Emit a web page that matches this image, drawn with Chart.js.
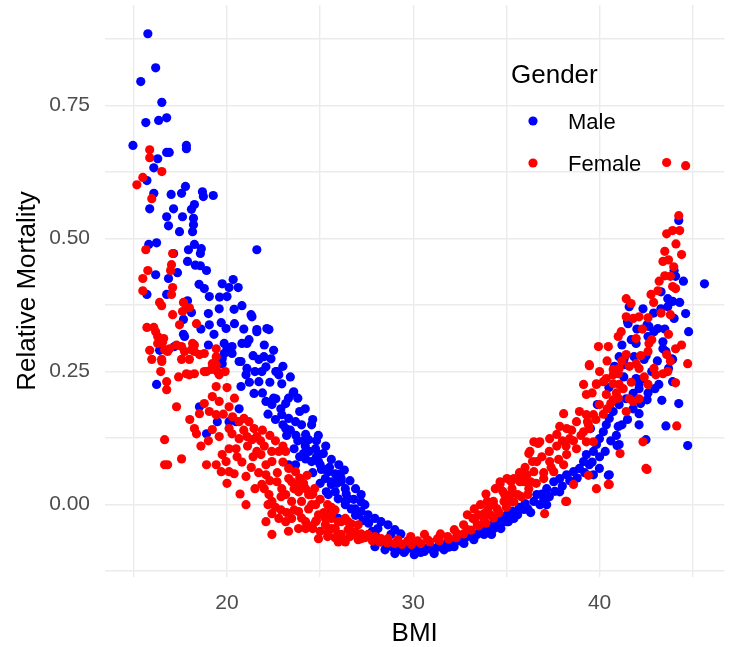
<!DOCTYPE html>
<html>
<head>
<meta charset="utf-8">
<script src="https://cdn.jsdelivr.net/npm/chart.js@4/dist/chart.umd.min.js"></script>
<style>
  html, body { margin: 0; padding: 0; background: #fff; }
  #wrap { width: 729px; height: 647px; }
</style>
</head>
<body>
<div id="wrap"><canvas id="myChart" width="729" height="647"></canvas></div>
<script>
// [BMI, relative mortality]
const malePoints = [
  [15.75,0.885],[16.17,0.821],[15.37,0.795],[16.5,0.756],[15.64,0.718],[16.33,0.722],[16.76,0.727],[14.95,0.675],
  [17.82,0.675],[17.82,0.669],[16.76,0.662],[16.9,0.662],[16.28,0.65],[16.07,0.633],[15.7,0.609],[16.07,0.585],
  [17.0,0.583],[17.56,0.585],[17.77,0.598],[18.68,0.588],[18.73,0.579],[19.26,0.581],[15.85,0.556],[17.13,0.556],
  [18.25,0.564],[18.09,0.555],[16.76,0.541],[16.86,0.524],[17.61,0.541],[18.2,0.538],[18.2,0.526],[18.15,0.513],
  [17.45,0.513],[15.8,0.489],[16.22,0.492],[17.13,0.472],[17.93,0.479],[18.25,0.489],[18.62,0.481],[18.57,0.472],
  [17.88,0.457],[18.57,0.449],[21.6,0.479],[17.34,0.436],[16.17,0.432],[16.86,0.425],[15.7,0.395],[16.76,0.395],
  [18.5,0.414],[18.78,0.406],[19.05,0.391],[19.74,0.415],[20.33,0.423],[20.11,0.408],[20.6,0.408],[20.0,0.391],
  [17.88,0.383],[18.09,0.361],[19.0,0.359],[19.58,0.368],[20.38,0.367],[20.8,0.374],[21.34,0.353],[19.05,0.338],
  [19.69,0.342],[19.95,0.331],[21.6,0.329],[22.14,0.331],[17.66,0.348],[17.66,0.32],[17.18,0.297],[16.38,0.29],
  [19.85,0.303],[20.27,0.297],[19.85,0.284],[20.27,0.284],[19.74,0.265],[20.75,0.269],[21.71,0.273],[21.98,0.278],
  [22.09,0.259],[22.36,0.274],[22.68,0.25],[21.18,0.31],[21.6,0.325],[21.07,0.303],[21.29,0.357],[20.8,0.303],
  [16.22,0.226],[17.72,0.316],[20.0,0.293],[19.74,0.274],[20.65,0.269],[21.07,0.256],[21.02,0.244],[20.75,0.222],
  [21.45,0.209],[21.71,0.231],[21.87,0.25],[22.62,0.25],[22.94,0.227],[22.78,0.244],[18.52,0.184],[18.9,0.133],
  [19.48,0.156],[20.11,0.156],[20.65,0.18],[20.49,0.156],[22.09,0.194],[22.41,0.188],[22.62,0.199],[22.89,0.18],
  [23.15,0.19],[23.58,0.212],[22.94,0.169],[23.31,0.162],[23.15,0.143],[23.68,0.156],[24.0,0.15],[24.54,0.15],
  [24.22,0.132],[24.38,0.122],[24.75,0.105],[25.17,0.096],[24.91,0.081],[24.54,0.081],[24.11,0.096],[23.68,0.075],
  [23.31,0.075],[22.25,0.329],[22.73,0.248],[22.5,0.2],[23.55,0.21],[23.2,0.13],[23.8,0.12],[24.2,0.11],
  [21.2,0.23],[21.5,0.25],[21.9,0.21],[22.2,0.17],[22.6,0.16],[23.0,0.15],[23.4,0.14],[23.7,0.13],
  [24.1,0.12],[24.4,0.1],[24.8,0.09],[25.0,0.075],[25.5,0.07],[25.9,0.04],[26.4,0.02],[26.8,0.01],
  [23.9,0.175],[23.3,0.2],[22.3,0.23],[21.4,0.28],[20.9,0.33],[20.4,0.34],[19.6,0.39],[18.9,0.44],
  [18.3,0.45],[19.3,0.32],[19.0,0.3],[18.6,0.33],
  [22.0,0.3],[22.5,0.29],[23.0,0.26],[23.4,0.24],[23.8,0.2],[24.2,0.18],[24.6,0.16],[24.9,0.13],
  [25.3,0.11],[25.6,0.085],[26.0,0.075],[26.3,0.065],[26.6,0.045],[26.9,0.03],[27.2,0.005],[25.0,0.04],
  [24.6,0.06],[24.8,0.12],[23.6,0.105],[23.9,0.09],
  [25.28,0.049],[25.6,0.043],[25.87,0.056],[26.13,0.049],[26.35,0.03],[25.81,0.024],[25.44,0.019],[25.97,0.011],
  [26.35,0.006],[26.67,-0.008],[27.04,-0.019],[27.2,0.019],[25.6,-0.013],[25.97,-0.026],[24.22,0.086],[24.91,0.094],
  [25.28,0.066],[24.11,0.039],[25.07,0.066],[25.44,0.062],[25.81,0.058],[26.08,0.058],[26.13,0.043],[25.6,0.038],
  [25.33,0.024],[26.5,0.011],[26.35,0.0],[26.88,-0.008],[27.2,-0.013],[27.57,-0.019],[27.94,-0.026],[28.27,-0.032],
  [28.64,-0.038],[29.01,-0.047],[29.33,-0.055],[27.94,-0.079],[28.48,-0.085],[29.01,-0.092],[29.54,-0.088],[30.05,-0.094],
  [30.59,-0.088],[31.12,-0.092],[31.65,-0.085],[32.19,-0.079],[32.72,-0.073],[33.25,-0.066],[33.8,-0.056],[34.33,-0.045],
  [34.87,-0.032],[35.4,-0.019],[35.94,-0.009],[28.1,-0.045],[28.8,-0.056],[29.7,-0.07],[30.2,-0.075],[30.9,-0.079],
  [31.8,-0.073],[32.7,-0.064],[33.8,-0.051],[34.5,-0.038],[35.2,-0.026],[27.4,0.0],
  [26.9,-0.02],[27.3,-0.03],[27.6,-0.035],[27.8,-0.05],[28.0,-0.06],[28.3,-0.07],[28.6,-0.075],[28.9,-0.08],
  [29.2,-0.085],[29.5,-0.09],[29.8,-0.082],[30.1,-0.085],[30.4,-0.09],[30.7,-0.082],[31.0,-0.085],[31.3,-0.08],
  [31.6,-0.078],[31.9,-0.08],[32.2,-0.07],[32.5,-0.068],[32.9,-0.06],[33.2,-0.058],[33.6,-0.05],[34.0,-0.04],
  [34.3,-0.036],[34.7,-0.03],[35.0,-0.02],[35.3,-0.012],[35.7,-0.005],[36.0,0.002],[36.3,-0.015],[36.8,0.0],
  [36.9,0.02],[37.3,0.015],[37.6,0.025],[38.0,0.035],[38.4,0.045],[38.8,0.05],[39.2,0.06],[39.6,0.08],
  [40.0,0.09],[40.3,0.1],[40.6,0.12],[40.9,0.13],[41.2,0.15],[41.5,0.16],[41.8,0.18],[42.2,0.19],
  [33.43,-0.056],[33.97,-0.047],[34.5,-0.041],[35.03,-0.032],[35.4,-0.026],[35.56,-0.013],[36.1,-0.008],[36.47,0.006],
  [36.63,0.019],[37.0,0.011],[37.16,0.03],[37.54,0.043],[37.86,0.049],[38.23,0.056],[38.6,0.062],[38.92,0.068],
  [39.14,0.081],[39.29,0.094],[39.67,0.1],[39.83,0.113],[39.99,0.124],[40.2,0.137],[40.36,0.15],[40.52,0.162],
  [40.73,0.175],[41.05,0.188],[41.43,0.199],[41.8,0.209],[42.12,0.218],[39.99,0.068],[40.52,0.056],[41.05,0.113],
  [41.0,0.147],[42.12,0.15],[42.12,0.171],[37.86,0.024],[37.16,0.0],[39.45,0.075],[39.67,0.056],[35.1,-0.032],
  [35.6,-0.019],[36.15,-0.008],[34.7,-0.045],[34.2,-0.056],
  [44.25,0.534],[44.08,0.429],[45.63,0.415],[43.66,0.387],[43.92,0.382],[42.33,0.368],[43.29,0.368],[43.66,0.372],
  [41.59,0.372],[44.62,0.359],[41.53,0.34],[42.65,0.335],[42.92,0.325],[43.13,0.331],[42.6,0.316],[44.78,0.325],
  [41.96,0.303],[43.4,0.293],[43.56,0.288],[41.05,0.278],[41.32,0.274],[41.85,0.278],[42.39,0.273],[43.92,0.273],
  [41.32,0.263],[41.96,0.237],[42.33,0.237],[42.12,0.226],[43.18,0.226],[43.92,0.231],[43.7,0.256],[44.25,0.19],
  [43.34,0.196],[43.56,0.148],[44.73,0.111],[42.49,0.122],[40.94,0.111],[40.47,0.055],[42.97,0.218],[42.55,0.197],
  [39.88,0.188],[39.51,0.143],[41.5,0.344],[42.55,0.338],[43.4,0.306],[43.87,0.274],
  [42.8,0.25],[43.1,0.27],[42.5,0.28],[43.5,0.33],[44.0,0.35],[44.3,0.38],[44.5,0.42],[44.0,0.44],
  [43.3,0.4],[42.9,0.36],[42.0,0.33],[41.7,0.31],[41.2,0.3],[40.8,0.26],[40.5,0.22],[41.3,0.24],[42.6,0.21]
];

const femalePoints = [
  [15.85,0.667],[15.85,0.652],[16.5,0.626],[15.48,0.615],[15.16,0.601],[15.96,0.575],[15.64,0.479],[17.08,0.472],
  [17.02,0.451],[16.97,0.44],[15.75,0.44],[15.48,0.425],[17.08,0.408],[17.02,0.395],[15.48,0.402],[16.38,0.38],
  [16.49,0.374],[17.66,0.38],[17.82,0.37],[17.98,0.37],[17.08,0.357],[17.61,0.363],[15.7,0.333],[16.07,0.333],
  [17.45,0.338],[18.36,0.34],[16.28,0.316],[16.54,0.305],[16.28,0.303],[16.92,0.293],[16.81,0.288],[15.85,0.29],
  [15.96,0.273],[16.49,0.273],[17.56,0.297],[17.72,0.288],[18.15,0.303],[18.25,0.288],[17.98,0.273],[17.56,0.273],
  [18.78,0.284],[19.42,0.293],[19.42,0.278],[19.32,0.259],[19.16,0.254],[18.78,0.25],[17.82,0.246],[18.25,0.246],
  [16.44,0.25],[16.17,0.325],[16.6,0.312],[16.65,0.291],[16.5,0.269],[17.29,0.3],[18.09,0.291],[18.25,0.3],
  [18.52,0.282],[19.21,0.265],[16.76,0.231],[16.76,0.216],[17.98,0.244],[18.9,0.25],[19.48,0.25],[19.42,0.263],
  [19.58,0.244],[19.42,0.222],[19.21,0.203],[19.58,0.194],[20.11,0.184],[18.78,0.19],[18.52,0.171],[19.05,0.175],
  [19.42,0.169],[18.25,0.143],[18.36,0.133],[19.21,0.141],[19.58,0.128],[20.11,0.143],[20.27,0.133],[20.65,0.156],
  [20.91,0.162],[21.18,0.156],[21.45,0.143],[21.6,0.128],[21.34,0.122],[21.07,0.128],[20.65,0.124],[20.49,0.105],
  [20.11,0.105],[20.54,0.09],[19.74,0.094],[19.95,0.081],[19.69,0.062],[20.11,0.062],[20.38,0.058],[21.02,0.053],
  [17.29,0.184],[16.65,0.122],[17.56,0.086],[16.65,0.075],[16.81,0.075],[18.9,0.075],[19.42,0.075],[21.02,0.0],
  [20.8,0.08],[21.3,0.07],[21.6,0.1],[22.0,0.11],[22.6,0.12],[23.0,0.08],[23.6,0.03],[24.1,0.04],
  [24.6,0.02],[25.0,0.01],[25.4,0.0],[25.8,-0.01],[22.9,-0.01],[23.3,-0.05],[22.7,0.06],[21.5,0.03],
  [20.7,0.02],[19.0,0.12],[18.6,0.11],[18.0,0.16],[20.0,0.22],[20.4,0.2],[19.9,0.25],[17.4,0.24],
  [21.9,0.14],[22.3,0.13],
  [21.1,0.11],[21.4,0.09],[21.7,0.06],[22.0,0.03],[22.3,0.045],[22.6,-0.005],[22.9,0.015],[23.2,-0.015],
  [23.6,-0.01],[24.0,-0.025],[24.4,-0.04],[24.8,-0.03],[25.2,-0.015],[25.6,-0.005],[23.9,0.05],[24.3,0.055],
  [23.0,0.11],[22.4,0.1],[21.8,0.12],[20.9,0.14],[20.3,0.165],[19.8,0.17],[20.0,0.04],[22.2,0.0],[24.7,0.03],
  [21.82,0.094],[22.09,0.075],[22.41,0.081],[22.78,0.1],[23.15,0.1],[22.09,0.056],[21.87,0.038],[22.25,0.019],
  [22.41,0.006],[22.68,0.043],[22.94,0.03],[23.31,0.049],[23.47,0.043],[23.15,0.019],[23.47,0.006],[23.84,0.024],
  [24.0,0.006],[23.84,-0.013],[24.38,0.019],[24.54,0.0],[24.91,-0.019],[24.75,-0.032],[24.22,-0.032],[23.84,-0.045],
  [23.47,-0.026],[23.15,-0.032],[22.78,-0.026],[22.09,-0.032],[22.41,-0.017],[22.41,-0.056],[24.91,-0.064],[25.28,-0.038],
  [25.6,-0.045],[25.97,-0.056],[26.35,-0.07],[26.67,-0.051],[27.04,-0.038],[27.2,-0.064],[24.38,-0.008],[24.22,0.03],
  [23.68,0.062],[23.31,0.068],[25.6,-0.026],[26.13,-0.032],[26.5,-0.032],
  [23.84,0.038],[24.54,0.019],[24.75,0.0],[25.28,-0.026],[25.6,-0.019],[25.97,-0.032],[26.35,-0.026],[26.67,-0.036],
  [26.5,-0.047],[26.88,-0.051],[27.2,-0.055],[27.57,-0.056],[27.94,-0.06],[28.27,-0.064],[28.64,-0.064],[29.17,-0.066],
  [29.7,-0.068],[30.23,-0.068],[30.77,-0.066],[31.3,-0.064],[31.84,-0.06],[32.37,-0.055],[32.9,-0.047],[33.44,-0.038],
  [33.8,-0.028],[34.13,-0.019],[34.5,-0.008],[34.87,0.006],[35.2,0.019],[34.66,0.039],[35.4,0.049],[35.94,0.043],
  [24.22,-0.045],[25.97,-0.07],[27.04,-0.066],[25.44,-0.051],[25.81,-0.045],[26.13,-0.056],[29.86,-0.06],[30.6,-0.056],
  [31.46,-0.055],[32.2,-0.047],[32.7,-0.038],[33.3,-0.028],[33.8,-0.017],[34.3,0.0],[34.9,0.019],
  [24.6,-0.045],[25.0,-0.05],[25.4,-0.06],[25.8,-0.062],[26.2,-0.065],[26.6,-0.06],[27.0,-0.058],[27.4,-0.062],
  [27.8,-0.068],[28.2,-0.07],[28.6,-0.072],[29.0,-0.073],[29.4,-0.075],[29.9,-0.075],[30.4,-0.073],[30.9,-0.07],
  [31.4,-0.068],[31.9,-0.065],[32.3,-0.062],[32.7,-0.055],[33.1,-0.048],[33.5,-0.04],[33.9,-0.035],[34.3,-0.025],
  [34.6,-0.015],[35.0,-0.005],[35.4,0.005],[35.8,0.015],[36.2,0.03],[36.6,0.04],[37.0,0.06],[37.4,0.07],
  [37.8,0.085],[38.2,0.11],[38.6,0.12],[39.0,0.13],[39.4,0.15],[39.8,0.16],[40.2,0.17],[40.6,0.19],[41.0,0.2],
  [33.9,0.02],[34.4,0.03],[34.8,0.025],[35.3,0.03],[35.7,0.06],[36.0,0.07],[36.9,0.09],[37.3,0.1],
  [37.7,0.11],[38.0,0.12],[38.5,0.14],
  [33.27,-0.008],[32.9,-0.019],[33.6,0.0],[33.97,0.006],[34.66,0.043],[35.03,0.049],[35.72,0.043],[36.1,0.056],
  [36.47,0.062],[36.63,0.081],[36.26,0.1],[36.47,0.118],[36.79,0.118],[37.32,0.124],[37.7,0.132],[37.86,0.147],
  [38.07,0.171],[38.23,0.143],[38.39,0.124],[38.76,0.156],[38.92,0.175],[39.14,0.137],[39.29,0.169],[39.29,0.118],
  [39.45,0.143],[38.07,0.075],[37.54,0.062],[37.32,0.081],[37.0,0.049],[38.23,0.094],[38.76,0.105],[39.14,0.226],
  [39.45,0.263],[39.83,0.226],[40.2,0.231],[40.36,0.207],[40.73,0.244],[41.05,0.256],[41.27,0.218],[41.59,0.199],
  [41.43,0.175],[42.12,0.199],[42.33,0.118],[42.49,0.068],[40.52,0.038],[39.83,0.03],[38.6,0.038],[38.23,0.006],
  [37.05,-0.017],[39.67,0.118],[39.29,0.207],[39.99,0.188],[35.25,0.043],[35.8,0.049],[36.3,0.043],[36.15,0.019],
  [35.6,0.019],[35.1,0.006],[34.3,0.006],[34.0,-0.008],[33.5,-0.019],[33.2,-0.026],[36.2,0.096],[36.4,0.081],
  [36.7,0.115],
  [44.25,0.543],[44.3,0.515],[43.6,0.509],[43.92,0.515],[43.5,0.476],[43.7,0.46],[43.4,0.457],[43.98,0.447],
  [43.8,0.429],[43.92,0.41],[44.08,0.406],[43.13,0.402],[42.76,0.395],[41.43,0.387],[41.69,0.378],[43.8,0.357],
  [41.43,0.353],[41.8,0.35],[42.12,0.353],[42.6,0.351],[43.7,0.32],[44.08,0.293],[44.73,0.265],[41.96,0.312],
  [41.0,0.316],[41.16,0.325],[39.94,0.297],[40.47,0.297],[42.65,0.303],[42.6,0.288],[41.43,0.282],[39.45,0.261],
  [40.73,0.254],[41.0,0.246],[41.96,0.265],[42.12,0.256],[42.92,0.256],[43.02,0.244],[43.4,0.246],[43.66,0.25],
  [39.83,0.227],[40.36,0.237],[40.73,0.227],[41.05,0.226],[42.6,0.226],[44.08,0.229],[43.6,0.643],[44.62,0.637],
  [44.14,0.148],[42.55,0.066],[41.1,0.096],[40.47,0.038],[39.4,0.055],[38.18,0.006],[43.6,0.282],[41.8,0.194],
  [40.73,0.197],[40.41,0.18],[39.67,0.169],[39.35,0.156],
  [42.3,0.33],[42.9,0.38],[43.2,0.42],[43.5,0.43],[44.4,0.47],[44.1,0.49],[43.3,0.36],[42.8,0.31],
  [42.2,0.28],[41.6,0.26],[41.2,0.27],[40.4,0.27],[40.0,0.25],[39.6,0.21],[40.9,0.21],[41.7,0.23],
  [42.4,0.24],[43.8,0.27],[44.4,0.3]
];

const seriesNames = ['Male', 'Female'];
const seriesColors = ['#0000ff', '#ff0000'];
const xGrid = [15, 20, 25, 30, 35, 40, 45];
const xLabels = [20, 30, 40];
const yGrid = [-0.125, 0, 0.125, 0.25, 0.375, 0.5, 0.625, 0.75, 0.875];
const yLabels = [0, 0.25, 0.5, 0.75];

const toXY = pts => pts.map(p => ({ x: p[0], y: p[1] }));

// ggplot-style legend sitting inside the panel
const insideLegend = {
  id: 'insideLegend',
  afterDatasetsDraw(chart) {
    const ctx = chart.ctx;
    ctx.save();
    ctx.fillStyle = '#000';
    ctx.textBaseline = 'alphabetic';
    ctx.font = '26px "Liberation Sans", Arial, sans-serif';
    ctx.fillText('Gender', 511, 83);
    ctx.font = '22px "Liberation Sans", Arial, sans-serif';
    const rows = [121, 163];
    seriesNames.forEach((name, i) => {
      ctx.fillStyle = seriesColors[i];
      ctx.beginPath();
      ctx.arc(533, rows[i], 4.6, 0, Math.PI * 2);
      ctx.fill();
      ctx.fillStyle = '#000';
      ctx.fillText(name, 568, rows[i] + 8);
    });
    ctx.restore();
  }
};

const ctx = document.getElementById('myChart');
new Chart(ctx, {
  type: 'scatter',
  data: {
    datasets: [
      { label: seriesNames[0], data: toXY(malePoints), backgroundColor: seriesColors[0], order: 1 },
      { label: seriesNames[1], data: toXY(femalePoints), backgroundColor: seriesColors[1], order: 0 }
    ]
  },
  options: {
    responsive: false,
    animation: false,
    layout: { padding: { top: 5, right: 0, left: 0, bottom: 0 } },
    elements: { point: { radius: 4.6, hoverRadius: 4.6, borderWidth: 0 } },
    plugins: { legend: { display: false }, tooltip: { enabled: false } },
    scales: {
      x: {
        type: 'linear',
        min: 13.45,
        max: 46.7,
        afterBuildTicks: s => { s.ticks = xGrid.map(v => ({ value: v })); },
        afterFit: s => { s.height = 70; s.paddingLeft = 0; s.paddingRight = 0; },
        border: { display: false },
        grid: { color: '#ebebeb', lineWidth: 1.4, drawTicks: false },
        ticks: {
          autoSkip: false, maxRotation: 0, padding: 14,
          color: '#4d4d4d',
          font: { family: '"Liberation Sans", Arial, sans-serif', size: 21 },
          callback: v => xLabels.includes(v) ? String(v) : ''
        },
        title: {
          display: true, text: 'BMI', color: '#000',
          font: { family: '"Liberation Sans", Arial, sans-serif', size: 26, lineHeight: 1 },
          padding: { top: 0, bottom: 0 }
        }
      },
      y: {
        type: 'linear',
        min: -0.136,
        max: 0.939,
        afterBuildTicks: s => { s.ticks = yGrid.map(v => ({ value: v })); },
        afterFit: s => { s.width = 105; s.paddingTop = 0; s.paddingBottom = 0; },
        border: { display: false },
        grid: { color: '#ebebeb', lineWidth: 1.4, drawTicks: false },
        ticks: {
          autoSkip: false, padding: 15,
          color: '#4d4d4d',
          font: { family: '"Liberation Sans", Arial, sans-serif', size: 21 },
          callback: v => yLabels.includes(v) ? v.toFixed(2) : ''
        },
        title: {
          display: true, text: 'Relative Mortality', color: '#000',
          font: { family: '"Liberation Sans", Arial, sans-serif', size: 26, lineHeight: 1 },
          padding: { top: 15, bottom: 0 }
        }
      }
    }
  },
  plugins: [insideLegend]
});
</script>
</body>
</html>
